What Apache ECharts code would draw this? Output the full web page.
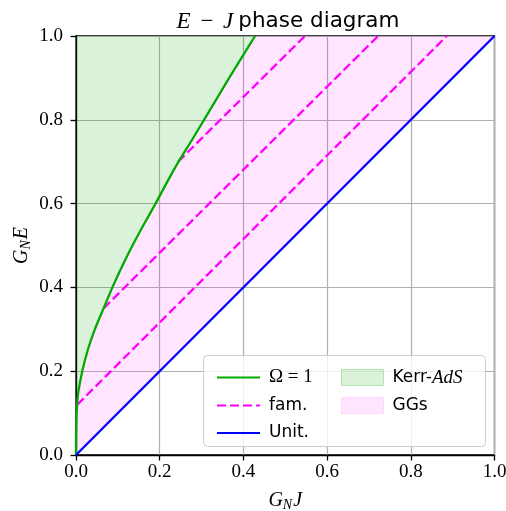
<!DOCTYPE html>
<html><head><meta charset="utf-8">
<script src="https://cdn.jsdelivr.net/npm/echarts@6/dist/echarts.min.js"></script>
<style>html,body{margin:0;padding:0;background:#fff}#c{width:506px;height:511px}</style>
</head><body><div id="c"></div>
<script>
// ---- data ----
const xTicks = [0.0, 0.2, 0.4, 0.6, 0.8, 1.0];
const yTicks = [0.0, 0.2, 0.4, 0.6, 0.8, 1.0];
// Omega = 1 curve (G_N J, G_N E)
const omegaJ = [0, 0.0001, 0.0004, 0.0014, 0.003, 0.0055, 0.015, 0.028, 0.045, 0.066, 0.087, 0.110, 0.135, 0.162, 0.190, 0.217, 0.245, 0.276, 0.306, 0.336, 0.366, 0.397, 0.428];
const omegaE = [0, 0.03,   0.06,   0.10,   0.125, 0.15,   0.20,  0.25,  0.30,  0.35,  0.40,  0.45,  0.50,  0.55,  0.60,  0.65,  0.70,  0.75,  0.80,  0.85,  0.90,  0.95,  1.00];
// family lines
const famStartJ = [0.003, 0.066, 0.244];
const famStartE = [0.120, 0.350, 0.700];
const famEndJ   = [0.886, 0.722, 0.547];
const famEndE   = [1.0, 1.0, 1.0];
// unitarity line
const unitJ = [0, 1];
const unitE = [0, 1];

const GREEN = '#00aa00', MAG = '#ff00ff', BLUE = '#0000ff';
const GREEN_FILL = 'rgba(0,170,0,0.15)', MAG_FILL = 'rgba(255,0,255,0.1)';
const SERIF = 'Liberation Serif', SANS = 'DejaVu Sans';

const chart = echarts.init(document.getElementById('c'), null, {renderer: 'canvas'});

const omegaData = omegaJ.map((j, i) => [j, omegaE[i]]);
const famSeries = famStartJ.map((j, i) => ({
  type: 'line', name: 'fam.', symbol: 'none', showSymbol: false, silent: true, z: 4,
  data: [[famStartJ[i], famStartE[i]], [famEndJ[i], famEndE[i]]],
  lineStyle: {color: MAG, width: 2.3, type: [9, 4]}, itemStyle: {color: MAG}
}));

const axisCommon = {
  type: 'value', min: 0, max: 1, interval: 0.2,
  axisLine: {show: true, lineStyle: {color: '#000', width: 1.3}},
  axisTick: {show: true, inside: false, length: 5.5, lineStyle: {color: '#000', width: 1.3}},
  splitLine: {show: true, lineStyle: {color: '#b0b0b0', width: 1.2}},
  axisLabel: {fontFamily: SERIF, fontSize: 19, color: '#000', formatter: v => v.toFixed(1)},
  nameLocation: 'middle', nameMoveOverlap: false
};
const nameRich = {
  i: {fontFamily: SERIF, fontStyle: 'italic', fontSize: 20, color: '#000'},
  s: {fontFamily: SERIF, fontStyle: 'italic', fontSize: 14, color: '#000', padding: [9, 1, 0, 0]}
};

const legendRich = {
  sp: {width: 4},
  t: {fontFamily: SANS, fontSize: 17, color: '#000'},
  m: {fontFamily: SERIF, fontSize: 19, color: '#000'},
  mi: {fontFamily: SERIF, fontStyle: 'italic', fontSize: 19, color: '#000'}
};
const legendFmt = {
  'Ω=1': '{sp|}{m|Ω = 1}',
  'fam.': '{sp|}{t|fam.}',
  'Unit.': '{sp|}{t|Unit.}',
  'Kerr-AdS': '{sp|}{t|Kerr-}{mi|AdS}',
  'GGs': '{sp|}{t|GGs}'
};
const noSym = {color: 'transparent', borderColor: 'transparent', borderWidth: 0};

chart.setOption({
  animation: false,
  backgroundColor: '#fff',
  title: {
    text: '{m|E}{o| − }{m|J} {t|phase diagram}',
    left: 283, top: 5, textAlign: 'center',
    textStyle: {fontWeight: 'normal', rich: {
      m: {fontFamily: SERIF, fontStyle: 'italic', fontWeight: 'normal', fontSize: 23, color: '#000'},
      o: {fontFamily: SERIF, fontWeight: 'normal', fontSize: 23, color: '#000', padding: [0, 4, 0, 4]},
      t: {fontFamily: SANS, fontWeight: 'normal', fontSize: 21.5, color: '#000'}
    }}
  },
  grid: {left: 76, top: 36, width: 418.5, height: 419, show: true, borderColor: '#000', borderWidth: 1.3,
         backgroundColor: 'transparent', containLabel: false, outerBoundsMode: 'none'},
  xAxis: Object.assign({}, axisCommon, {
    name: '{i|G}{s|N}{i|J}', nameGap: 34,
    nameTextStyle: {rich: nameRich},
    axisLabel: Object.assign({}, axisCommon.axisLabel, {margin: 8, customValues: xTicks})
  }),
  yAxis: Object.assign({}, axisCommon, {
    name: '{i|G}{s|N}{i|E}', nameGap: 43, nameRotate: 90,
    nameTextStyle: {rich: nameRich},
    axisLabel: Object.assign({}, axisCommon.axisLabel, {margin: 13, customValues: yTicks})
  }),
  graphic: [{
    type: 'rect', z: 50, left: 203, top: 355,
    shape: {width: 282, height: 91, r: 4},
    style: {fill: 'rgba(255,255,255,0.8)', stroke: '#cccccc', lineWidth: 1}
  }],
  legend: [{
    orient: 'vertical', left: 211, top: 363, z: 60,
    itemWidth: 43, itemHeight: 16, itemGap: 9.5,
    itemStyle: noSym,
    data: [
      {name: 'Ω=1', itemStyle: noSym},
      {name: 'fam.', itemStyle: noSym},
      {name: 'Unit.', itemStyle: noSym}
    ],
    formatter: n => legendFmt[n],
    textStyle: {rich: legendRich, lineHeight: 18}
  }, {
    orient: 'vertical', left: 336, top: 363, z: 60,
    itemWidth: 42, itemHeight: 16, itemGap: 9.5,
    data: [
      {name: 'Kerr-AdS', icon: 'rect', itemStyle: {color: GREEN_FILL, borderColor: 'rgba(0,170,0,0.25)', borderWidth: 1}},
      {name: 'GGs', icon: 'rect', itemStyle: {color: MAG_FILL, borderColor: 'rgba(255,0,255,0.12)', borderWidth: 1}}
    ],
    formatter: n => legendFmt[n],
    textStyle: {rich: legendRich, lineHeight: 18}
  }],
  series: [
    {
      type: 'custom', name: 'Kerr-AdS', coordinateSystem: 'cartesian2d', silent: true, z: 1,
      data: [[0, 0]], itemStyle: {color: GREEN_FILL},
      renderItem: (params, api) => {
        const pts = omegaJ.map((j, i) => api.coord([j, omegaE[i]]));
        pts.push(api.coord([0, 1]));
        return {type: 'polygon', shape: {points: pts}, style: {fill: GREEN_FILL}};
      }
    },
    {
      type: 'custom', name: 'GGs', coordinateSystem: 'cartesian2d', silent: true, z: 1,
      data: [[0, 0]], itemStyle: {color: MAG_FILL},
      renderItem: (params, api) => {
        const pts = omegaJ.map((j, i) => api.coord([j, omegaE[i]]));
        pts.push(api.coord([xTicks[xTicks.length - 1], yTicks[yTicks.length - 1]]));
        for (let k = unitJ.length - 1; k >= 0; k--) pts.push(api.coord([unitJ[k], unitE[k]]));
        return {type: 'polygon', shape: {points: pts}, style: {fill: MAG_FILL}};
      }
    },
    {
      type: 'line', name: 'Ω=1', symbol: 'none', showSymbol: false, silent: true, z: 5, smooth: 0.2,
      data: omegaData, lineStyle: {color: GREEN, width: 2.3}, itemStyle: {color: GREEN}
    },
    ...famSeries,
    {
      type: 'line', name: 'Unit.', symbol: 'none', showSymbol: false, silent: true, z: 5,
      data: unitJ.map((j, i) => [j, unitE[i]]), lineStyle: {color: BLUE, width: 2.3}, itemStyle: {color: BLUE}
    }
  ]
});
</script>
</body></html>
